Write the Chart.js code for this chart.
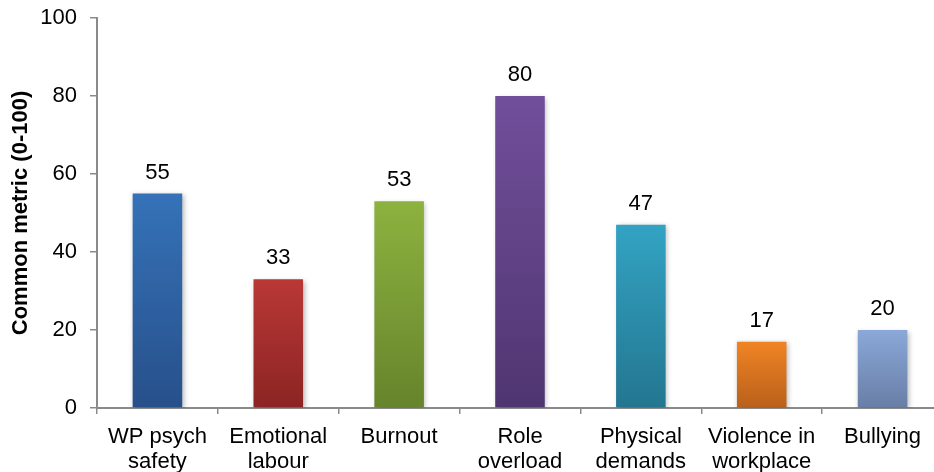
<!DOCTYPE html>
<html>
<head>
<meta charset="utf-8">
<script src="https://cdn.jsdelivr.net/npm/chart.js@4/dist/chart.umd.min.js"></script>
<style>
  html, body { margin: 0; padding: 0; background: #ffffff; overflow: hidden; }
  #wrap { width: 960px; height: 472px; position: relative; }
</style>
</head>
<body>
<div id="wrap"><canvas id="chart"></canvas></div>
<script>
// Psychosocial risk factors on a common 0-100 metric
const categories = [
  ['WP psych', 'safety'],
  ['Emotional', 'labour'],
  ['Burnout'],
  ['Role', 'overload'],
  ['Physical', 'demands'],
  ['Violence in', 'workplace'],
  ['Bullying']
];
const metricValues = [55, 33, 53, 80, 47, 17, 20];
const yTicks = [0, 20, 40, 60, 80, 100];

// Top and bottom shades for each bar's vertical gradient
const topColors    = ['#3572b8', '#b93836', '#8db23f', '#714f9b', '#33a3c3', '#f08424', '#8aa8d8'];
const bottomColors = ['#27508a', '#8b2423', '#66842c', '#4f3570', '#237690', '#b9601b', '#687ea6'];

const FONT = '"Liberation Sans", Arial, sans-serif';
const AXIS_GREY = '#8a8a8a';

function barGradient(ctx) {
  const chart = ctx.chart;
  const area = chart.chartArea;
  const i = ctx.dataIndex;
  if (!area || i === undefined) return topColors[i || 0];
  const y = chart.scales.y;
  const top = y.getPixelForValue(metricValues[i]);
  const bottom = y.getPixelForValue(0);
  const g = chart.ctx.createLinearGradient(0, top, 0, bottom);
  g.addColorStop(0, topColors[i]);
  g.addColorStop(1, bottomColors[i]);
  return g;
}

// Soft drop shadow behind the bars
const barShadow = {
  id: 'barShadow',
  beforeDatasetsDraw(chart) {
    const c = chart.ctx;
    c.save();
    c.shadowColor = 'rgba(0,0,0,0.28)';
    c.shadowBlur = 5;
    c.shadowOffsetX = 1.5;
    c.shadowOffsetY = 1.5;
  },
  afterDatasetsDraw(chart) {
    chart.ctx.restore();
  }
};

// Value written above each bar
const valueLabels = {
  id: 'valueLabels',
  afterDatasetsDraw(chart) {
    const c = chart.ctx;
    const meta = chart.getDatasetMeta(0);
    c.save();
    c.font = '22px ' + FONT;
    c.fillStyle = '#000000';
    c.textAlign = 'center';
    c.textBaseline = 'alphabetic';
    meta.data.forEach((bar, i) => {
      c.fillText(String(metricValues[i]), bar.x, bar.y - 15);
    });
    c.restore();
  }
};

new Chart(document.getElementById('chart'), {
  type: 'bar',
  data: {
    labels: categories,
    datasets: [{
      data: metricValues,
      backgroundColor: barGradient,
      borderWidth: 0,
      barPercentage: 0.82,
      categoryPercentage: 0.5
    }]
  },
  options: {
    responsive: true,
    maintainAspectRatio: false,
    animation: false,
    events: [],
    layout: { padding: { top: 18, right: 17, left: 0, bottom: 0 } },
    plugins: {
      legend: { display: false },
      tooltip: { enabled: false }
    },
    scales: {
      x: {
        grid: {
          display: true,
          drawOnChartArea: false,
          offset: true,
          tickLength: 6,
          color: AXIS_GREY,
          lineWidth: 1.5
        },
        border: { display: true, color: AXIS_GREY, width: 2 },
        ticks: {
          color: '#000000',
          font: { family: FONT, size: 22, lineHeight: 1.14 },
          padding: 10,
          maxRotation: 0,
          autoSkip: false
        },
        afterFit(scale) {
          scale.height = 64;
          scale.paddingLeft = 0;
          scale.paddingRight = 0;
        }
      },
      y: {
        min: 0,
        max: 100,
        afterBuildTicks(scale) { scale.ticks = yTicks.map(v => ({ value: v })); },
        grid: {
          display: true,
          drawOnChartArea: false,
          tickLength: 7,
          color: AXIS_GREY,
          lineWidth: 1.5
        },
        border: { display: true, color: AXIS_GREY, width: 2 },
        ticks: {
          color: '#000000',
          font: { family: FONT, size: 22 },
          padding: 13
        },
        title: {
          display: true,
          text: 'Common metric (0-100)',
          color: '#000000',
          font: { family: FONT, size: 22, weight: 'bold' },
          padding: { top: 8, bottom: 0 }
        },
        afterFit(scale) {
          scale.width = 97;
          scale.paddingTop = 0;
          scale.paddingBottom = 0;
        }
      }
    }
  },
  plugins: [barShadow, valueLabels]
});
</script>
</body>
</html>
